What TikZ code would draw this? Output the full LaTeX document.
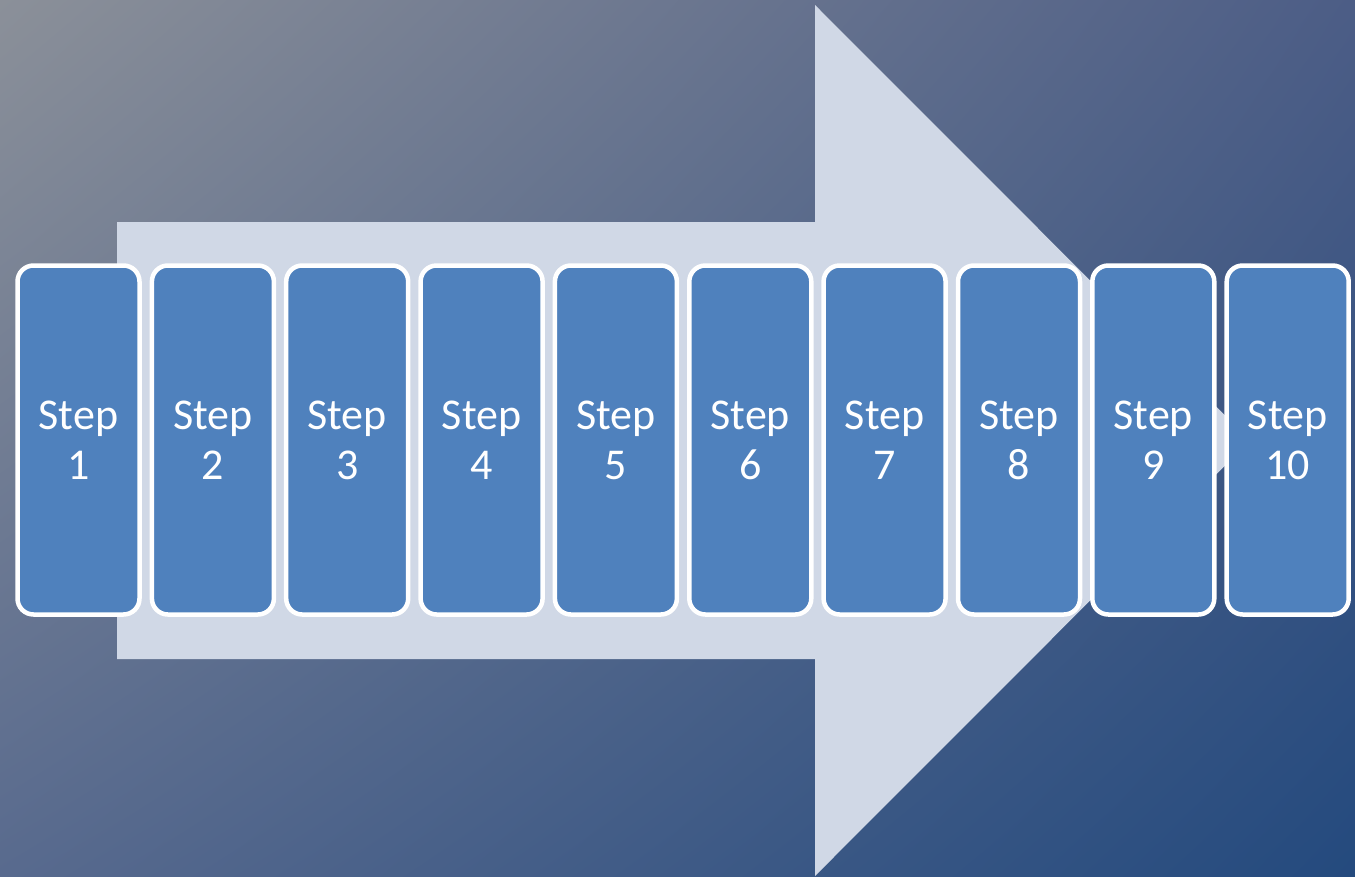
\documentclass[tikz,border=0pt]{standalone}
\usepackage{fontspec}
\newfontfamily\stepfont{Carlito}
\usetikzlibrary{positioning,shadings}
\definecolor{bgtl}{HTML}{8B9099}
\definecolor{bgtr}{HTML}{4C5D86}
\definecolor{bgbl}{HTML}{586A8E}
\definecolor{bgbr}{HTML}{244A7E}
\definecolor{arrowfill}{HTML}{D0D8E6}
\definecolor{stepblue}{HTML}{4F81BD}

\begin{document}
\begin{tikzpicture}[
  x=1pt,y=-1pt,
  stepbox/.style={draw=white,line width=4.5pt,fill=stepblue,rounded corners=16pt,
    minimum width=122pt,minimum height=349pt,inner sep=0pt,align=center,
    text=white,font=\stepfont\fontsize{44}{50}\selectfont}
]
% ---------------- background ----------------
\useasboundingbox (0,0) rectangle (1355,876);
\shade[upper left=bgtl,upper right=bgtr,lower left=bgbl,lower right=bgbr]
  (0,0) rectangle (1355,876);

% ---------------- big arrow ----------------
\fill[arrowfill] (117,222) -- (815,222) -- (815,5) -- (1250,440.5)
  -- (815,876) -- (815,659) -- (117,659) -- cycle;

% ---------------- steps ----------------
\node[stepbox] (s1) at (78.5,440) {Step\\1};
\node[stepbox] (s2) at (212.9,440) {Step\\2};
\node[stepbox] (s3) at (347.2,440) {Step\\3};
\node[stepbox] (s4) at (481.6,440) {Step\\4};
\node[stepbox] (s5) at (615.9,440) {Step\\5};
\node[stepbox] (s6) at (750.3,440) {Step\\6};
\node[stepbox] (s7) at (884.6,440) {Step\\7};
\node[stepbox] (s8) at (1019.0,440) {Step\\8};
\node[stepbox] (s9) at (1153.3,440) {Step\\9};
\node[stepbox] (s10) at (1287.7,440) {Step\\10};
\end{tikzpicture}
\end{document}
